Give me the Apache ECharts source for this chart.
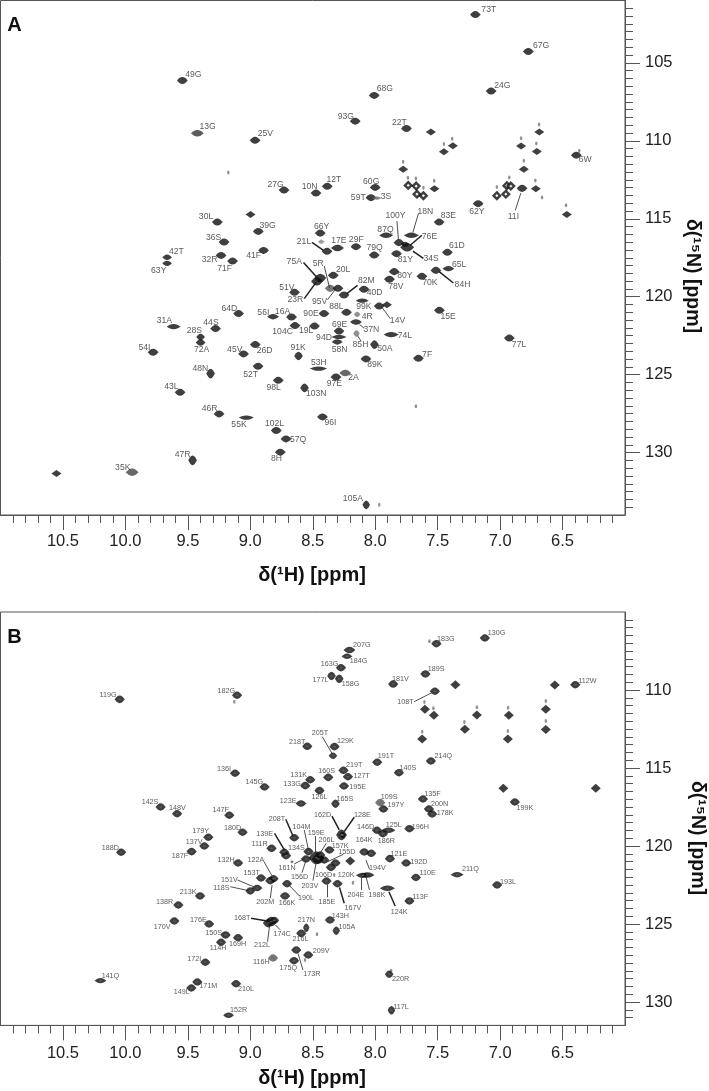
<!DOCTYPE html>
<html><head><meta charset="utf-8">
<style>html,body{margin:0;padding:0;background:#fff}#c{width:709px;height:1091px}</style>
<script src="https://cdn.jsdelivr.net/npm/echarts@6/dist/echarts.min.js"></script>
</head><body><div id="c"></div>
<script>
// ---------- values: [assignment, 1H ppm, 15N ppm] ----------
const xMajor=[10.5,10,9.5,9,8.5,8,7.5,7,6.5];
const xMinor=[10.9,10.8,10.7,10.6,10.4,10.3,10.2,10.1,9.9,9.8,9.7,9.6,9.4,9.3,9.2,9.1,8.9,8.8,8.7,8.6,8.4,8.3,8.2,8.1,7.9,7.8,7.7,7.6,7.4,7.3,7.2,7.1,6.9,6.8,6.7,6.6,6.4,6.3,6.2,6.1];
const yMajorA=[105,110,115,120,125,130];
const yMajorB=[110,115,120,125,130];
const peaksA=[['49G',9.544,106.13],['13G',9.424,109.51],['25V',8.962,109.97],['27G',8.73,113.16],['10N',8.474,113.35],['12T',8.384,112.92],['93G',8.16,108.74],['30L',9.264,115.21],['39G',8.936,115.81],['66Y',8.44,115.92],['36S',9.21,116.49],['21L',8.386,117.09],['17E',8.302,116.88],['29F',8.154,116.79],['42T',9.666,117.47],['63Y',9.666,117.86],['32R',9.234,117.35],['71F',9.142,117.71],['41F',8.894,117.03],['20L',8.336,118.63],['75A',8.44,118.8],['23R',8.466,119.01],['51V',8.646,119.72],['5R',8.36,119.46],['95V',8.298,119.46],['82M',8.25,119.89],['40D',8.09,119.52],['99K',8.104,120.25],['88L',8.23,121],['90E',8.41,121.08],['56I',8.818,121.28],['16A',8.67,121.3],['104C',8.642,121.85],['19L',8.486,121.88],['69E',8.29,122.2],['94D',8.29,122.58],['58N',8.304,122.9],['4R',8.144,121.13],['37N',8.154,121.62],['85H',8.15,122.36],['50A',8.006,123.07],['74L',7.872,122.43],['14V',7.968,120.6],['89K',8.074,123.99],['7F',7.654,123.95],['15E',7.486,120.87],['91K',8.614,123.8],['53H',8.454,124.61],['2A',8.24,124.89],['97E',8.314,125.15],['98L',8.776,125.36],['103N',8.566,125.85],['26D',8.96,123.07],['52T',8.938,124.46],['45V',9.054,123.67],['100Y',7.81,116.53],['87Q',7.912,116.06],['18N',7.71,116.06],['83E',7.488,115.21],['76E',7.76,116.64],['34S',7.744,116.83],['79Q',8.008,117.33],['81Y',7.83,117.24],['61D',7.422,117.15],['65L',7.414,118.2],['84H',7.514,118.31],['80Y',7.848,118.39],['78V',7.886,118.88],['70K',7.626,118.69],['73T',7.198,101.9],['67G',6.774,104.27],['24G',7.072,106.81],['68G',8.008,107.09],['22T',7.75,109.21],['6W',6.39,110.92],['11I',6.824,113.05],['60G',8,112.99],['59T',8.034,113.65],['3S',7.986,113.67],['62Y',7.176,114.03],['31A',9.614,121.92],['44S',9.278,122.04],['28S',9.398,122.58],['72A',9.398,122.94],['64D',9.094,121.08],['54I',9.778,123.56],['48N',9.318,124.93],['43L',9.562,126.13],['46R',9.25,127.52],['55K',9.032,127.75],['102L',8.792,128.58],['57Q',8.714,129.12],['8H',8.76,129.97],['47R',9.462,130.49],['35K',9.946,131.26],['96I',8.422,127.71],['105A',8.072,133.35],['77L',6.926,122.65]];
const unassignedA=[[8.998,114.72],[7.554,109.44],[7.378,110.31],[7.45,110.7],[6.832,110.34],[6.686,109.44],[6.706,110.68],[7.776,111.83],[6.81,111.83],[7.526,113.07],[6.714,113.07],[6.466,114.72],[10.552,131.34],[7.906,120.51]];
const hollowA=[[7.736,112.86],[7.672,112.9],[7.666,113.42],[7.614,113.52],[7.026,113.52],[6.954,113.42],[6.946,112.88],[6.914,112.9]];
const faintA=[[7.384,109.87],[7.45,110.21],[6.832,109.83],[6.688,108.95],[6.71,110.17],[7.776,111.34],[6.81,111.28],[7.738,112.37],[7.674,112.41],[7.528,112.56],[7.614,113.01],[7.026,112.97],[6.926,112.35],[6.718,112.54],[6.472,114.14],[9.176,112.04],[6.366,110.63],[6.664,113.63],[7.674,127.02],[7.968,133.35]];
const greyA=[[8.432,116.47]];
const leadersA=[['75A',8.574,117.81,8.462,118.8],['5R',8.408,118.03,8.366,119.42],['23R',8.568,120.12,8.472,119.06],['95V',8.382,120.19,8.32,119.55],['82M',8.142,119.27,8.232,119.83],['21L',8.506,116.51,8.414,117.03],['37N',8.126,121.77,8.088,122.03],['85H',8.142,122.49,8.114,122.84],['14V',7.944,120.7,7.88,121.4],['100Y',7.826,115.15,7.814,116.34],['18N',7.654,114.67,7.698,115.87],['76E',7.626,116.06,7.72,116.7],['34S',7.698,117.07,7.614,117.54],['84H',7.488,118.39,7.374,119.12],['11I',6.878,114.46,6.834,113.35]];

const peaksB=[['119G',10.046,110.6],['182G',9.106,110.34],['207G',8.206,107.44],['184G',8.226,107.84],['163G',8.274,108.57],['177L',8.35,109.1],['158G',8.288,109.28],['205T',8.338,114.21],['218T',8.544,113.61],['129K',8.326,113.63],['136I',9.122,115.34],['145G',8.886,116.22],['131K',8.52,115.75],['160S',8.376,115.6],['133G',8.56,116.13],['219T',8.254,115.15],['127T',8.218,115.56],['195E',8.25,116.15],['126L',8.446,116.45],['165S',8.318,117.29],['123E',8.594,117.28],['142S',9.718,117.5],['148V',9.586,117.93],['147F',9.168,118.03],['162D',8.27,119.29],['128E',8.262,119.29],['180D',9.062,119.12],['179Y',9.336,119.44],['137V',9.368,120],['187F',9.47,120.36],['188D',10.034,120.4],['132H',9.098,121.09],['213K',9.402,123.2],['138R',9.576,123.78],['170V',9.608,124.81],['176E',9.33,125],['150S',9.198,125.7],['114H',9.234,126.17],['169H',9.098,125.88],['172I',9.36,127.45],['141Q',10.2,128.63],['171M',9.424,128.72],['149L',9.472,129.1],['210L',9.114,128.83],['152R',9.174,130.85],['208T',8.648,119.47],['104M',8.534,120.36],['134S',8.714,120.62],['139E',8.728,120.4],['111R',8.83,120.15],['159E',8.472,120.75],['156D',8.554,120.83],['161N',8.666,121.01],['203V',8.456,120.83],['206L',8.44,120.58],['157K',8.366,120.26],['155D',8.408,120.9],['106D',8.354,121.37],['120K',8.318,121.09],['185E',8.39,122.24],['167V',8.302,122.42],['146D',7.986,118.99],['125L',7.894,118.99],['186R',7.938,119.21],['196H',7.726,118.89],['164K',8.088,120.38],['194V',8.032,120.47],['121E',7.882,120.81],['192D',7.752,121.09],['110E',7.674,122.02],['204E',8.098,121.88],['198K',8.062,121.86],['124K',7.902,122.71],['113F',7.726,123.52],['122A',8.814,122.1],['202M',8.84,122.22],['153T',8.914,122.05],['151V',8.946,122.69],['118S',9,122.88],['190L',8.706,122.42],['166K',8.722,123.2],['168T',8.832,124.84],['174C',8.808,124.77],['212L',8.856,124.94],['217N',8.552,125.24],['216L',8.592,125.6],['143H',8.362,124.74],['105A',8.312,125.43],['209V',8.536,126.99],['173R',8.632,126.67],['175Q',8.65,127.35],['116H',8.818,127.18],['220R',7.888,128.22],['117L',7.87,130.53],['193L',7.024,122.5],['211Q',7.344,121.84],['130G',7.122,106.67],['183G',7.51,107.03],['189S',7.598,108.97],['181V',7.856,109.62],['108T',7.522,110.08],['112W',6.398,109.66],['191T',7.984,114.63],['214Q',7.554,114.55],['140S',7.81,115.3],['135F',7.618,116.99],['199K',6.882,117.18],['109S',7.96,117.22],['197Y',7.934,117.63],['200N',7.57,117.63],['178K',7.544,117.95]];
const unassignedB=[[7.358,109.66],[6.562,109.68],[7.602,111.24],[7.53,111.62],[7.186,111.6],[6.93,111.62],[6.634,111.24],[7.282,112.52],[6.634,112.54],[7.624,113.14],[6.938,113.14],[6.974,116.3],[6.234,116.3],[8.2,120.96]];
const faintB=[[7.606,110.77],[7.534,111.17],[7.186,111.11],[6.936,111.13],[6.634,110.7],[7.286,112.05],[6.634,111.99],[7.624,112.67],[6.938,112.63],[9.128,110.75],[7.566,106.88],[8.562,127.31],[8.178,122.35],[8.466,125.66],[8.328,121.86],[7.872,127.99]];
const leadersB=[['205T',8.424,112.99,8.346,114.06],['162D',8.346,118.08,8.288,118.97],['128E',8.168,118.16,8.248,119.08],['208T',8.716,118.29,8.658,119.36],['104M',8.568,118.97,8.536,120.21],['159E',8.478,119.36,8.478,120.47],['206L',8.392,119.83,8.44,120.45],['155D',8.254,120.53,8.382,121.01],['139E',8.806,119.19,8.726,120.26],['161N',8.648,121.15,8.56,120.79],['156D',8.586,121.71,8.558,121.01],['203V',8.498,122.22,8.472,121.01],['185E',8.386,122.45,8.386,123.29],['167V',8.286,122.65,8.248,123.67],['194V',8.074,120.9,8.046,121.49],['204E',8.112,122.01,8.112,122.82],['198K',8.072,122.01,8.046,122.82],['124K',7.89,122.93,7.84,123.85],['122A',8.89,121.01,8.826,121.92],['202M',8.826,122.5,8.84,123.35],['151V',9.102,122.18,8.974,122.61],['118S',9.16,122.61,9.014,122.86],['190L',8.686,122.54,8.608,123.19],['168T',8.994,124.63,8.866,124.81],['174C',8.8,125.06,8.76,125.38],['212L',8.846,125.13,8.862,126.13],['173R',8.618,126.88,8.578,127.95],['108T',7.688,110.75,7.546,110.17]];

// ---------- presentation tables ----------
const labelOffsetA={'49G':[11,-6],'13G':[10.3,-7],'25V':[10.3,-6.3],'27G':[-8.4,-5.7],'10N':[-6.4,-6],'12T':[6.7,-6.3],'93G':[-9.3,-5],'30L':[-11.3,-5],'39G':[9.3,-5.3],'66Y':[1.3,-6],'36S':[-10.4,-4.7],'21L':[-23,-9.7],'17E':[1.4,-7],'29F':[0.3,-7],'42T':[9.3,-5.3],'63Y':[-8.4,7.7],'32R':[-11.4,4.3],'71F':[-8,7.3],'41F':[-10,5],'20L':[10,-5.3],'75A':[-26,-16.7],'23R':[-21.7,18.7],'51V':[-7.6,-5],'5R':[-12,-24.7],'95V':[-18.4,13.7],'82M':[22.3,-14],'40D':[10.6,3.3],'99K':[1.7,6.4],'88L':[-10,-5.7],'90E':[-13,-0.3],'56I':[-9.7,-3.6],'16A':[-9,-5],'104C':[-12.4,5.7],'19L':[-8.3,5],'69E':[0.6,-6.4],'94D':[-15,1],'58N':[2.3,7.6],'4R':[10,2.7],'37N':[15.3,8],'85H':[4,11.4],'50A':[10.4,4],'74L':[13.7,0.7],'14V':[18.3,14.6],'89K':[9,6],'7F':[8.7,-3.7],'15E':[8.7,6.7],'91K':[-0.3,-8.7],'53H':[0.4,-6],'2A':[8.3,5],'97E':[-1.7,7],'98L':[-4.7,7],'103N':[11.7,6],'26D':[9.3,5.7],'52T':[-7.4,8],'45V':[-8.8,-4.4],'100Y':[-3.4,-27.3],'87Q':[-0.7,-6],'18N':[14,-23.3],'83E':[9.3,-6.4],'76E':[24.3,-8],'34S':[24,11.7],'79Q':[0.3,-7],'81Y':[9,6],'61D':[9.4,-6.7],'65L':[10.7,-4.3],'84H':[26.6,14],'80Y':[10.7,4],'78V':[6.4,7.3],'70K':[8,6.7],'73T':[13.4,-4.7],'67G':[12.7,-6.3],'24G':[11.3,-5.4],'68G':[10.7,-7.3],'22T':[-7,-6],'6W':[9,4.6],'11I':[-8.7,28],'60G':[-4,-6.3],'59T':[-12.7,0],'3S':[9,-1.7],'62Y':[-1.3,8.4],'31A':[-9.3,-5.6],'44S':[-4.6,-6.3],'28S':[-6.3,-6.4],'72A':[1,6.7],'64D':[-9.3,-5.3],'54I':[-8.7,-4.7],'48N':[-10.3,-5.3],'43L':[-8.7,-5.3],'46R':[-9.4,-5.7],'55K':[-7.3,7.4],'102L':[-1.7,-6.6],'57Q':[12,1],'8H':[-3.7,6.7],'47R':[-10,-5.7],'35K':[-9.4,-4.3],'96I':[8,6],'105A':[-13.3,-6],'77L':[9.7,6.3]};
const labelOffsetB={'119G':[-11.6,-4],'182G':[-10.7,-4.6],'207G':[12.4,-4.7],'184G':[11.6,5],'163G':[-11.4,-4],'177L':[-11,4.3],'158G':[11.3,5.6],'205T':[-13,-22.7],'218T':[-10,-4.6],'129K':[11,-5.7],'136I':[-11,-4.3],'145G':[-10.3,-4.7],'131K':[-11.7,-4.7],'160S':[-1.7,-6.3],'133G':[-13.3,-1.7],'219T':[10.7,-5.6],'127T':[13.6,-1],'195E':[13.6,1.3],'126L':[0,6.6],'165S':[9.4,-5],'123E':[-12.8,-2.8],'142S':[-10.6,-4.7],'148V':[0.3,-5.7],'147F':[-8.7,-5.3],'162D':[-19,-20.3],'128E':[20,-19.7],'180D':[-10,-4.3],'179Y':[-7.7,-6],'137V':[-10.3,-4.3],'187F':[-11.6,4.6],'188D':[-10.7,-4],'132H':[-12,-3.3],'213K':[-12,-4.3],'138R':[-13.7,-2.7],'170V':[-12.3,5.7],'176E':[-10.7,-4],'150S':[-12,-1.7],'114H':[-3,5.7],'169H':[-0.4,6.6],'172I':[-11,-3],'141Q':[10,-5],'171M':[11,4],'149L':[-9.7,4.3],'210L':[10,5.6],'152R':[10,-5],'208T':[-17.3,-18.4],'104M':[-7,-25],'134S':[10.3,-7.4],'139E':[-19.7,-18.6],'111R':[-12,-4],'159E':[0,-25],'156D':[-6.4,17.7],'161N':[-5,6.3],'203V':[-8.3,26.7],'206L':[6.3,-15],'157K':[10.7,-4.3],'155D':[22.7,-8],'106D':[-7.4,7.7],'120K':[10.7,12],'185E':[0.4,20.7],'167V':[15.4,24],'146D':[-11.4,-3.6],'125L':[5.4,-5.6],'186R':[3.3,7],'196H':[11,-2],'164K':[0,-11.7],'194V':[6.3,14.7],'121E':[9,-5],'192D':[12.7,-1],'110E':[11.7,-4.2],'204E':[-7,19.4],'198K':[9.4,19.7],'124K':[11.7,23.4],'113F':[10.8,-3.5],'122A':[-17.6,-18.7],'202M':[-5,21.3],'153T':[-9.4,-5.3],'151V':[-27.7,-8],'118S':[-29,-3.3],'190L':[19,14.3],'166K':[2,6.7],'168T':[-29,-3],'174C':[7.7,14],'212L':[-6.3,22],'217N':[0,-7.7],'216L':[-0.7,6],'143H':[10.3,-4],'105A':[10.7,-3.7],'209V':[13,-4],'173R':[15.7,23.7],'175Q':[-5.7,7.6],'116H':[-11.7,4.3],'220R':[11.3,5],'117L':[9.7,-3.3],'193L':[11,-3.3],'211Q':[13.3,-5.7],'130G':[11.6,-5.3],'183G':[9.4,-5],'189S':[10.7,-5],'181V':[7.3,-5],'108T':[-29.4,10.7],'112W':[12,-4],'191T':[8.7,-6.3],'214Q':[12.3,-5],'140S':[9,-5],'135F':[9.6,-5],'199K':[10,6],'109S':[9,-5.4],'197Y':[12.4,-3.7],'200N':[10.6,-5],'178K':[13,-1.3]};
const sizeA={'17E':[12,6],'87Q':[13,5],'18N':[14,5],'99K':[12,4],'94D':[14,4],'58N':[10,5],'53H':[16,4],'37N':[11,5],'74L':[14,5],'34S':[13,8],'76E':[8,5],'65L':[11,5],'56I':[11,5],'2A':[11,6],'31A':[13,5],'55K':[14,4],'3S':[8,3],'35K':[12,7],'13G':[12,6],'75A':[11,8],'23R':[11,8],'4R':[6,5],'85H':[6,6],'28S':[8,6],'72A':[9,6],'50A':[8,8],'105A':[7,8],'91K':[8,8],'103N':[8,8],'48N':[8,9],'47R':[8,9],'42T':[9,5],'63Y':[9,5]};
const sizeB={'141Q':[11,5],'125L':[13,5],'204E':[13,5],'198K':[13,5],'124K':[14,5],'211Q':[12,5],'118S':[9,7],'151V':[10,6],'159E':[14,12],'203V':[12,9],'168T':[11,9],'174C':[9,7],'212L':[10,8],'162D':[10,10],'128E':[6,6],'207G':[11,6],'184G':[10,5],'177L':[8,8],'158G':[8,8],'217N':[6,8],'161N':[3,3],'123E':[10,6],'152R':[10,5],'205T':[8,6],'165S':[8,8],'105A':[7,8],'117L':[7,8],'220R':[8,7]};
const tintA={'4R':'#777','85H':'#777','5R':'#555','2A':'#444','3S':'#666','35K':'#444','13G':'#333'};
const tintB={'161N':'#777','116H':'#555','109S':'#555'};
const thickA=new Set(['75A','23R','84H','21L','82M','34S','76E']);
const thickB=new Set(['162D','128E','208T','139E','124K','167V','168T']);

const INK='#0f0f0f', TEXT='#303030', AXIS='#555';
const FONT='"Liberation Sans", Arial, sans-serif';
const LENS='path://M0 3L2 1.5Q5 -0.4 8 1.5L10 3L8 4.5Q5 6.4 2 4.5Z';

const toPeak=(offs,sizes,tints,defSize,fs)=>([n,h,v])=>({
  value:[h,v],name:n,symbolSize:(sizes[n]||defSize).map(s=>s*1.08),
  itemStyle:{color:tints[n]||INK},
  label:{show:true,position:'inside',formatter:n,offset:offs[n]||[0,0],color:TEXT,fontSize:fs,fontFamily:FONT}
});
const leaderLines=(list,thick)=>list.map(([n,a,b,c,d])=>[
  {coord:[a,b],lineStyle:{width:thick.has(n)?1.5:0.8,color:'#222',type:'solid'}},{coord:[c,d]}]);

function panel(i,peaks,offs,sizes,tints,defSize,fs,leaders,thick,plain,plainSize,faint){
  const ax={xAxisIndex:i*2,yAxisIndex:i*2,animation:false,silent:true};
  return [
    {...ax,type:'scatter',name:'peaks'+i,symbol:LENS,z:3,data:peaks.map(toPeak(offs,sizes,tints,defSize,fs)),
     markLine:{silent:true,animation:false,symbol:'none',label:{show:false},data:leaderLines(leaders,thick)}},
    {...ax,type:'scatter',name:'unassigned'+i,symbol:'diamond',symbolSize:plainSize,z:3,itemStyle:{color:INK},data:plain},
    {...ax,type:'scatter',name:'faint'+i,symbol:'circle',symbolSize:[2.5,4],z:2,itemStyle:{color:'#777'},data:faint}
  ];
}
const series=[
  ...panel(0,peaksA,labelOffsetA,sizeA,tintA,[10,6.5],8.6,leadersA,thickA,unassignedA,[10,7],faintA),
  {xAxisIndex:0,yAxisIndex:0,type:'scatter',symbol:'diamond',symbolSize:[6.5,6.5],z:3,animation:false,silent:true,
   itemStyle:{color:'#fff',borderColor:INK,borderWidth:2.4},data:hollowA},
  {xAxisIndex:0,yAxisIndex:0,type:'scatter',symbol:'diamond',symbolSize:[7,5],z:3,animation:false,silent:true,
   itemStyle:{color:'#888'},data:greyA},
  ...panel(1,peaksB,labelOffsetB,sizeB,tintB,[9.5,7],7.2,leadersB,thickB,unassignedB,[10,9],faintB),
  {xAxisIndex:2,yAxisIndex:2,type:'scatter',symbol:'circle',symbolSize:[3,1.6],z:4,animation:false,silent:true,
   itemStyle:{color:'#666'},data:peaksB.map(p=>[p[1],p[2]])}
];

function xAxes(gi){
  const base={gridIndex:gi,type:'value',inverse:true,min:6,max:11,position:'bottom',splitLine:{show:false},
    axisLine:{show:true,onZero:false,lineStyle:{color:AXIS,width:1}}};
  return [
   {...base,axisTick:{show:true,length:15,customValues:xMajor,lineStyle:{color:AXIS,width:1}},
    axisLabel:{show:true,customValues:xMajor,margin:gi?20:18,color:'#222',fontSize:16.5,fontFamily:FONT,formatter:v=>v.toFixed(1)}},
   {...base,axisLine:{show:false},axisTick:{show:true,length:8,customValues:xMinor,lineStyle:{color:AXIS,width:1}},axisLabel:{show:false}}
  ];
}
function yAxes(gi,lo,hi,maj){
  const base={gridIndex:gi,type:'value',inverse:true,min:lo,max:hi,position:'right',splitLine:{show:false},
    axisLine:{show:true,onZero:false,lineStyle:{color:AXIS,width:1}}};
  const allMinor=[];for(let v=lo+0.5;v<hi;v+=0.5)if(v%5!==0)allMinor.push(v);
  return [
   {...base,axisTick:{show:true,length:15,customValues:maj,lineStyle:{color:AXIS,width:1}},
    axisLabel:{show:true,customValues:maj,margin:20,color:'#222',fontSize:16.5,fontFamily:FONT}},
   {...base,axisLine:{show:false},axisTick:{show:true,length:8,customValues:allMinor,lineStyle:{color:AXIS,width:1}},axisLabel:{show:false}}
  ];
}
const T=(text,x,y,size,rot)=>({type:'text',x,y,rotation:rot||0,silent:true,
  style:{text,font:'bold '+size+'px '+FONT,fill:'#111',textAlign:'center',textVerticalAlign:'middle'}});

const chart=echarts.init(document.getElementById('c'),null,{renderer:'canvas'});
chart.setOption({
  backgroundColor:'#fff',animation:false,
  grid:[
    {left:0.5,top:0.5,width:624.5,height:514.5,show:true,borderColor:AXIS,borderWidth:1,backgroundColor:'#fff'},
    {left:0.5,top:612,width:624.5,height:413.4,show:true,borderColor:AXIS,borderWidth:1,backgroundColor:'#fff'}
  ],
  xAxis:[...xAxes(0),...xAxes(1)],
  yAxis:[...yAxes(0,101,134,yMajorA),...yAxes(1,105,131.5,yMajorB)],
  series,
  graphic:[
    T('A',14.5,25,20),T('B',14.5,637,20),
    T('δ(¹H) [ppm]',312,575,20),T('δ(¹H) [ppm]',312,1078,20),
    T('δ(¹⁵N) [ppm]',692,276,19.5,-Math.PI/2),T('δ(¹⁵N) [ppm]',697,838,19.5,-Math.PI/2)
  ]
});
</script></body></html>
